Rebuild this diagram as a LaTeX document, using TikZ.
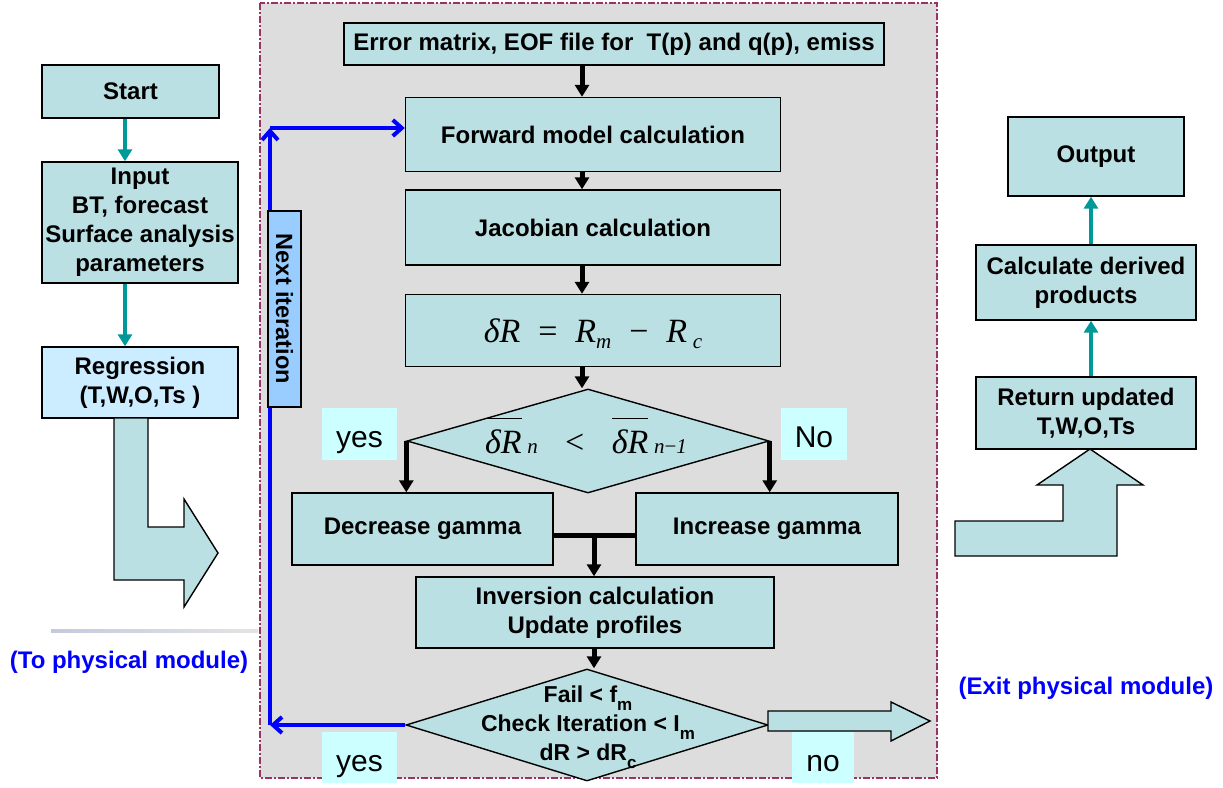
\documentclass[tikz,border=0pt]{standalone}
\usepackage{fontspec}
\setmainfont{Liberation Sans}
\newfontfamily\tms{Liberation Serif}
\usetikzlibrary{arrows.meta,shapes.geometric}
\definecolor{boxfill}{HTML}{BBE0E3}
\definecolor{regfill}{HTML}{CCECFF}
\definecolor{nitfill}{HTML}{99CCFF}
\definecolor{lblfill}{HTML}{CCFFFF}
\definecolor{panelfill}{HTML}{DDDDDD}
\definecolor{panelborder}{HTML}{993366}
\definecolor{tealc}{HTML}{009999}
\definecolor{bluec}{HTML}{0000FF}
\definecolor{gradA}{HTML}{C4CADF}
\definecolor{gradB}{HTML}{D9D2AE}
\definecolor{gradC}{HTML}{E4E4E4}
\newcommand\ovl[1]{\setbox0=\hbox{#1}\rlap{\raisebox{34pt}{\rule{\wd0}{1.5pt}}}\box0}
\newcommand\sub[1]{\raisebox{-8pt}[0pt][0pt]{\fontsize{17}{17}\selectfont #1}}
\newcommand\msub[1]{\raisebox{-6pt}[0pt][0pt]{\fontsize{21}{21}\selectfont #1}}
\begin{document}
\begin{tikzpicture}[x=1pt,y=-1pt,
  box/.style={draw=black,line width=1.4pt,fill=boxfill,inner sep=0pt,align=center,font=\bfseries\fontsize{24}{29}\selectfont},
  lbl/.style={fill=lblfill,inner sep=0pt,text height=27pt,text depth=0pt,font=\fontsize{30}{30}\selectfont},
  decision/.style={draw=black,line width=1.4pt,fill=boxfill,diamond,inner sep=0pt},
  tarrow/.style={draw=tealc,line width=4pt,-{Triangle[length=12pt,width=14pt]}},
  karrow/.style={draw=black,line width=5pt,-{Triangle[length=12pt,width=14pt]}},
  barrow/.style={draw=bluec,line width=4pt,-{Straight Barb[length=9pt,width=16pt]}},
  bigarrow/.style={draw=black,line width=1.4pt,fill=boxfill,line join=miter},
  bluetext/.style={text=bluec,inner sep=0pt,font=\bfseries\fontsize{24}{29}\selectfont}
]
\path[use as bounding box] (0,0) rectangle (1223,787);
\fill[white] (0,0) rectangle (1223,787);

% central panel
\draw[fill=panelfill,draw=panelborder,line width=2.4pt,dash pattern=on 7pt off 2pt on 2pt off 2pt] (260,3) rectangle (937,778);

% left column
\node[box,minimum width=177pt,minimum height=53pt] (start) at (130.5,91.5) {Start};
\node[box,minimum width=196pt,minimum height=121pt] (input) at (140,222.5) {Input\\BT, forecast\\Surface analysis\\parameters};
\node[box,fill=regfill,minimum width=196pt,minimum height=71pt] (regr) at (140,382.5) {Regression\\(T,W,O,Ts )};
\coordinate (aL) at (125,0);
\draw[tarrow] (start.south -| aL) -- (input.north -| aL);
\draw[tarrow] (input.south -| aL) -- (regr.north -| aL);
\draw[bigarrow] (114,418) -- (148,418) -- (148,527) -- (184,527) -- (184,499) -- (218,553) -- (184,607) -- (184,580) -- (114,580) -- cycle;
\shade[left color=gradA,middle color=gradB,right color=gradC] (51,629.5) rectangle (258,632.5);
\node[bluetext] (tolbl) at (129,662) {(To physical module)};

% middle flow
\coordinate (ax) at (582,0);
\coordinate (j) at (594,535);
\node[box,minimum width=540pt,minimum height=42pt] (err) at (614,44) {Error matrix, EOF file for\ \ T(p) and q(p), emiss};
\node[box,minimum width=375pt,minimum height=74pt] (fwd) at (593,134.5) {Forward model calculation};
\node[box,minimum width=375pt,minimum height=75pt] (jac) at (593,227.5) {Jacobian calculation};
\node[box,minimum width=375pt,minimum height=72pt] (dr) at (593,330.5) {\tms\mdseries\itshape\fontsize{34}{34}\selectfont δR\; {\upshape =}\; R\msub{m}\; {\upshape −}\; R\,\msub{c}};
\node[decision,minimum width=362pt,minimum height=104pt] (d1) at (588,441) {};
\node[anchor=base,inner sep=0pt,font=\tms\itshape\fontsize{34}{34}\selectfont] (d1t) at (586,453) {\ovl{δR}\,{\fontsize{21}{21}\selectfont n}\;\; {\upshape <}\;\; \ovl{δR}\,{\fontsize{21}{21}\selectfont n{\upshape −}1}};
\node[lbl,minimum width=75pt,minimum height=52pt] (yes1) at (359.5,434) {yes};
\node[lbl,minimum width=66pt,minimum height=52pt] (no1) at (814,434) {No};
\node[box,minimum width=261pt,minimum height=72pt] (dec) at (422.5,529) {Decrease gamma};
\node[box,minimum width=262pt,minimum height=72pt] (inc) at (767,529) {Increase gamma};
\node[box,minimum width=358pt,minimum height=71pt] (inv) at (595,612.5) {Inversion calculation\\Update profiles};
\node[decision,minimum width=362pt,minimum height=112pt] (d2) at (587,725) {};
\node[align=center,inner sep=0pt,font=\bfseries\fontsize{23}{29}\selectfont] (d2t) at (588,723) {Fail < f\sub{m}\\Check Iteration < I\sub{m}\\dR > dR\sub{c}};
\node[lbl,minimum width=75pt,minimum height=51pt] (yes2) at (359.5,757.5) {yes};
\node[lbl,minimum width=62pt,minimum height=51pt] (no2) at (823,757.5) {no};
\draw[bigarrow] (768,711) -- (891,711) -- (891,702) -- (930,721) -- (891,741) -- (891,731) -- (768,731) -- cycle;

\draw[karrow] (err.south -| ax) -- (fwd.north -| ax);
\draw[karrow] (fwd.south -| ax) -- (jac.north -| ax);
\draw[karrow] (jac.south -| ax) -- (dr.north -| ax);
\draw[karrow] (dr.south -| ax) -- (d1.north -| ax);
\draw[karrow] (d1.west) -- (d1.west |- dec.north);
\draw[karrow] (d1.east) -- (d1.east |- inc.north);
\draw[black,line width=5pt] (dec.east |- j) -- (inc.west |- j);
\draw[karrow] (j) -- (inv.north -| j);
\draw[karrow] (inv.south -| j) -- (d2.north -| j);

% blue loop
\coordinate (c1) at (270,725);
\coordinate (c2) at (270,128);
\draw[barrow] (d2.west) -- (c1);
\draw[barrow] (c1) -- (c2);
\draw[barrow] (c2) -- (fwd.west |- c2);
\node[draw=black,line width=1.4pt,fill=nitfill,rotate=-90,inner sep=0pt,minimum width=196pt,minimum height=33pt,font=\bfseries\fontsize{23.5}{24}\selectfont] (nit) at (284.5,309) {Next iteration};

% right column
\node[box,minimum width=176pt,minimum height=79pt] (out) at (1096,156.5) {Output};
\node[box,minimum width=220pt,minimum height=75pt] (calc) at (1086,282.5) {Calculate derived\\products};
\node[box,minimum width=220pt,minimum height=72pt] (ret) at (1086,413) {Return updated\\T,W,O,Ts};
\coordinate (aR) at (1091,0);
\draw[tarrow] (ret.north -| aR) -- (calc.south -| aR);
\draw[tarrow] (calc.north -| aR) -- (out.south -| aR);
\draw[bigarrow] (955,521) -- (1063,521) -- (1063,485) -- (1037,485) -- (1090,449) -- (1143,485) -- (1117,485) -- (1117,556) -- (955,556) -- cycle;
\node[bluetext] (exitlbl) at (1086,688) {(Exit physical module)};
\end{tikzpicture}
\end{document}
